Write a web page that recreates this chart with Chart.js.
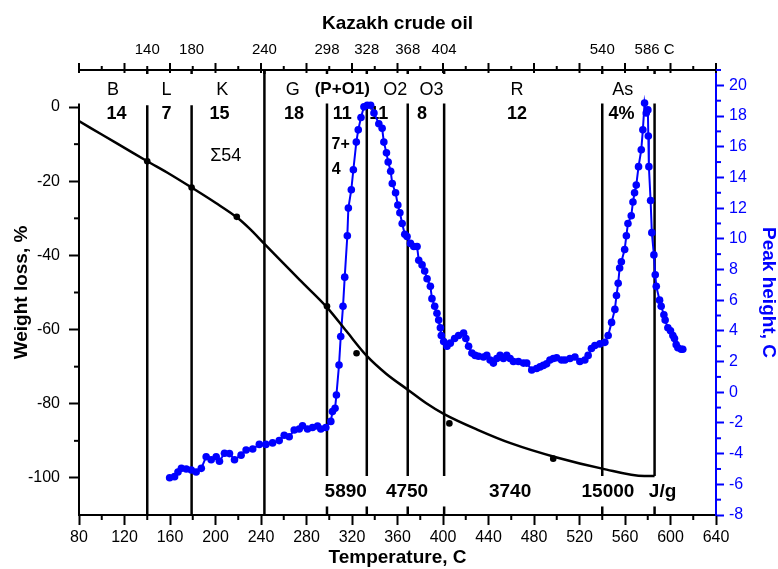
<!DOCTYPE html>
<html>
<head>
<meta charset="utf-8">
<script src="https://cdn.jsdelivr.net/npm/chart.js@4.4.1/dist/chart.umd.min.js"></script>
<style>
  body { margin: 0; background: #fff; }
</style>
</head>
<body>
<canvas id="c" width="778" height="569"></canvas>
<script>
// weight loss curve
const tgaTemp = [80, 100, 120, 140, 160, 179, 200, 219, 230, 243, 260, 274, 298, 315, 333, 350, 369, 385, 401, 431, 460, 500, 540, 577, 586];
const tgaLoss = [-3.8, -7.4, -11, -14.6, -18.1, -21.7, -25.8, -29.8, -32.8, -36.9, -42.2, -46.6, -54.0, -60.4, -67.1, -71.9, -76.2, -79.8, -82.8, -87.1, -90.7, -94.5, -97.5, -99.5, -99.5];
// measured points on weight loss curve
const tgaDotTemp = [140, 179, 218.7, 298, 324, 405.6, 496.9];
const tgaDotLoss = [-14.6, -21.7, -29.6, -53.7, -66.4, -85.3, -94.8];

// peak height curve
const peakTemp = [159.7, 164, 167, 170, 174.3, 178.7, 183, 187.5, 191.8, 196.2, 200.6, 203.5, 207.9, 212.3, 216.7, 222.5, 226.9, 232.7, 238.5, 244.3,
  250.2, 256, 260.4, 264.8, 269.2, 273.6, 276.5, 280.9, 285.3, 289.7, 292.6, 297, 301.4, 302.8, 305.1, 306.3, 308.6, 310.1, 312.1, 313.6,
  315.9, 316.8, 319.4, 321.2, 323.8, 325.5, 327.9, 330.5, 333.4, 336.4, 339.3, 343.6, 346.5, 348, 350.3, 351.8, 354, 355.4, 358.3, 360.3,
  362.1, 364.1, 366.4, 368.4, 371.4, 374.3, 377.2, 378.7, 381.6, 383.9, 386, 388.9, 390.3, 392.7, 394.7, 396.2, 397.7, 398.5, 400.6, 403.5,
  406.4, 410.2, 413.7, 418.1, 420.1, 422.5, 425.4, 428.3, 431.2, 435.6, 438.5, 441.4, 444.3, 447.3, 450.2, 453.1, 456, 459, 461.9, 466.3,
  470.7, 473.6, 478, 482.3, 485.3, 488.2, 491.1, 494, 497, 499.9, 504.3, 507.2, 511.6, 516, 520.3, 524.7, 527.6, 530.5, 533.5, 537.9,
  542.3, 545.2, 548.2, 551.1, 552.5, 554, 555.3, 556.8, 559.7, 561.2, 562.6, 565.5, 567, 568.4, 569.9, 571.9, 574.3, 575.7, 577.2, 578.7,
  580.1, 580.5, 581, 582.5, 583.6, 585.4, 586.6, 587.5, 590.4, 591.8, 594.2, 595.3, 597.7, 600, 602.1, 603.5, 605, 606.5, 609.4, 610.8];
const peakHeight = [-5.57, -5.5, -5.2, -4.96, -5.0, -5.07, -5.2, -4.96, -4.2, -4.4, -4.2, -4.5, -3.98, -4.0, -4.4, -4.1, -3.76, -3.7, -3.4, -3.4,
  -3.3, -3.15, -2.8, -2.9, -2.46, -2.4, -2.18, -2.4, -2.3, -2.2, -2.4, -2.3, -1.9, -1.26, -1.05, -0.18, 1.78, 3.63, 5.6, 7.5,
  10.2, 12.0, 13.2, 14.5, 16.3, 17.1, 17.9, 18.6, 18.7, 18.7, 18.2, 17.5, 17.2, 16.3, 15.6, 15.0, 14.4, 13.6, 13.0, 12.2,
  11.7, 11.0, 10.3, 10.15, 9.7, 9.5, 9.5, 8.6, 8.3, 7.9, 7.4, 6.9, 6.1, 5.6, 5.15, 4.7, 4.2, 3.7, 3.3, 3.0,
  3.2, 3.5, 3.7, 3.85, 3.5, 3.0, 2.55, 2.4, 2.35, 2.3, 2.4, 2.1, 1.9, 2.2, 2.4, 2.2, 2.4, 2.2, 2.0, 2.0,
  1.9, 1.9, 1.45, 1.55, 1.65, 1.75, 1.85, 2.1, 2.2, 2.25, 2.1, 2.1, 2.2, 2.3, 2.0, 2.1, 2.4, 2.85, 3.05, 3.15,
  3.25, 3.7, 4.55, 5.4, 6.3, 7.1, 8.1, 8.5, 9.3, 10.2, 11.0, 11.5, 12.4, 13.0, 13.5, 14.7, 15.8, 17.1, 18.85, 18.2,
  18.4, 16.7, 14.7, 12.5, 10.4, 8.95, 7.65, 6.9, 6.0, 5.6, 5.05, 4.7, 4.2, 4.0, 3.7, 3.5, 3.1, 2.9, 2.8, 2.8];

// fraction cut temperatures and their labels on the top axis
const cutTemps = [140, 179, 243, 298, 333, 369, 401, 540, 586];
const cutLabels = ['140', '180', '240', '298', '328', '368', '404', '540', '586 C'];
const fractionNames = ['B', 'L', 'K', 'G', '(P+O1)', 'O2', 'O3', 'R', 'As'];
const fractionShares = ['14', '7', '15', '18', '11', '11', '8', '12', '4%'];
const heatValues = ['5890', '4750', '3740', '15000', 'J/g'];
const leftTicks = [-100, -80, -60, -40, -20, 0];
const rightTicks = [-8, -6, -4, -2, 0, 2, 4, 6, 8, 10, 12, 14, 16, 18, 20];

const FONT = '"Liberation Sans", Arial, Helvetica, sans-serif';
const BLUE = '#0000ff';
Chart.defaults.font.family = FONT;
Chart.defaults.color = '#000';

// where the text notes sit (temperature, weight-loss units)
const nameX = [110, 157, 206, 268, 311.5, 358, 390, 465, 558];
const shareX = [113, 157, 203.5, 269, 311.5, 343.6, 381.6, 465, 557];
const heatX = [314.5, 368.4, 459, 545, 593];

const overlay = {
  id: 'overlay',
  beforeDatasetsDraw(chart) {
    const { ctx, chartArea: a, scales: { x, y } } = chart;
    ctx.save();
    ctx.strokeStyle = '#000';
    ctx.lineWidth = 2.5;
    const vline = (px, y1, y2) => {
      ctx.beginPath(); ctx.moveTo(px, y1); ctx.lineTo(px, y2); ctx.stroke();
    };
    cutTemps.forEach((t, i) => {
      const px = x.getPixelForValue(t);
      if (i < 3) {
        vline(px, i === 2 ? a.top : y.getPixelForValue(0.5), a.bottom);
      } else {
        vline(px, y.getPixelForValue(1), y.getPixelForValue(-99.5));
        vline(px, y.getPixelForValue(-107.7), a.bottom);
      }
    });

    ctx.fillStyle = '#000';
    ctx.textAlign = 'center';
    ctx.textBaseline = 'middle';
    fractionNames.forEach((s, i) => {
      ctx.font = (i === 4 ? 'bold 17px ' : '18px ') + FONT;
      ctx.fillText(s, x.getPixelForValue(nameX[i]), y.getPixelForValue(4.7));
    });
    ctx.font = 'bold 18px ' + FONT;
    fractionShares.forEach((s, i) => {
      ctx.fillText(s, x.getPixelForValue(shareX[i]), y.getPixelForValue(-2));
    });
    ctx.font = 'bold 19px ' + FONT;
    heatValues.forEach((s, i) => {
      ctx.fillText(s, x.getPixelForValue(heatX[i]), y.getPixelForValue(-103.6));
    });
    ctx.font = '18px ' + FONT;
    ctx.fillText('\u03A354', x.getPixelForValue(209), y.getPixelForValue(-13.2));
    ctx.font = 'bold 16px ' + FONT;
    ctx.fillText('7+', x.getPixelForValue(310), y.getPixelForValue(-10.1));
    ctx.fillText('4', x.getPixelForValue(306.2), y.getPixelForValue(-16.8));
    ctx.restore();
  },
  afterDraw(chart) {
    const { ctx, chartArea: a, scales: { x, y, y2 } } = chart;
    ctx.save();
    const seg = (x1, y1, x2, y2_) => {
      ctx.beginPath(); ctx.moveTo(x1, y1); ctx.lineTo(x2, y2_); ctx.stroke();
    };
    ctx.strokeStyle = '#000';
    ctx.lineWidth = 2;
    // left axis line starts just above 0
    seg(a.left, y.getPixelForValue(1), a.left, a.bottom + 1);
    // minor ticks
    for (let v = 100; v < 640; v += 40) {
      const px = x.getPixelForValue(v);
      seg(px, a.bottom, px, a.bottom + 5);
    }
    for (let v = -90; v < 0; v += 20) {
      const py = y.getPixelForValue(v);
      seg(a.left, py, a.left - 5, py);
    }
    // top axis ticks
    for (let v = 80; v <= 640; v += 20) {
      const px = x.getPixelForValue(v);
      if ((v - 80) % 40 === 0) seg(px, a.top - 7, px, a.top + 3);
      else seg(px, a.top - 4, px, a.top);
    }
    ctx.lineWidth = 2.5;
    cutTemps.forEach(t => {
      const px = x.getPixelForValue(t);
      seg(px, a.top, px, a.top + 4);
    });
    ctx.strokeStyle = BLUE;
    ctx.lineWidth = 2;
    for (let v = -7; v <= 21; v += 2) {
      const py = y2.getPixelForValue(v);
      seg(a.right, py, a.right + 5, py);
    }
    ctx.restore();
  }
};

new Chart(document.getElementById('c'), {
  type: 'line',
  data: {
    datasets: [
      {
        label: 'Weight loss',
        data: tgaTemp.map((t, i) => ({ x: t, y: tgaLoss[i] })),
        xAxisID: 'x', yAxisID: 'y',
        borderColor: '#000', borderWidth: 2.5,
        pointRadius: 0, cubicInterpolationMode: 'monotone'
      },
      {
        label: 'Weight loss points',
        data: tgaDotTemp.map((t, i) => ({ x: t, y: tgaDotLoss[i] })),
        xAxisID: 'x', yAxisID: 'y',
        showLine: false, pointRadius: 3.3,
        pointBackgroundColor: '#000', pointBorderWidth: 0
      },
      {
        label: 'Peak height',
        data: peakTemp.map((t, i) => ({ x: t, y: peakHeight[i] })),
        xAxisID: 'x', yAxisID: 'y2',
        borderColor: BLUE, borderWidth: 2,
        pointRadius: 3.8, pointBackgroundColor: BLUE, pointBorderWidth: 0
      }
    ]
  },
  options: {
    responsive: false,
    animation: false,
    layout: { padding: 0 },
    plugins: { legend: { display: false }, tooltip: { enabled: false } },
    scales: {
      x: {
        type: 'linear', position: 'bottom', min: 80, max: 640,
        ticks: { stepSize: 40, padding: 3, maxRotation: 0, font: { size: 16 }, color: '#000' },
        grid: { drawOnChartArea: false, tickLength: 10, tickColor: '#000', tickWidth: 2 },
        border: { color: '#000', width: 2 },
        title: { display: true, text: 'Temperature, C', font: { size: 19, weight: 'bold', lineHeight: 1 }, padding: { top: 0, bottom: 2 } },
        afterFit(s) { s.height = 54; }
      },
      x2: {
        type: 'linear', position: 'top', min: 80, max: 640,
        afterBuildTicks(s) { s.ticks = cutTemps.map(v => ({ value: v })); },
        ticks: { autoSkip: false, maxRotation: 0, padding: 3, font: { size: 15 }, color: '#000', callback: (v, i) => cutLabels[i] },
        grid: { drawOnChartArea: false, color: 'rgba(0,0,0,0)', tickLength: 8 },
        border: { color: '#000', width: 2 },
        title: { display: true, text: 'Kazakh crude oil', font: { size: 19, weight: 'bold', lineHeight: 1 }, padding: { top: 14, bottom: 0 } },
        afterFit(s) { s.height = 70; }
      },
      y: {
        position: 'left', min: -110, max: 10,
        afterBuildTicks(s) { s.ticks = leftTicks.map(v => ({ value: v })); },
        ticks: { padding: 9, font: { size: 16 }, color: '#000' },
        grid: { drawOnChartArea: false, tickLength: 10, tickColor: '#000', tickWidth: 2 },
        border: { display: false },
        title: { display: true, text: 'Weight loss, %', font: { size: 19, weight: 'bold', lineHeight: 1 }, padding: { top: 12, bottom: 0 } },
        afterFit(s) { s.width = 79; }
      },
      y2: {
        position: 'right', min: -8, max: 21,
        afterBuildTicks(s) { s.ticks = rightTicks.map(v => ({ value: v })); },
        ticks: { padding: 5, font: { size: 16 }, color: BLUE },
        grid: { drawOnChartArea: false, tickLength: 8, tickColor: BLUE, tickWidth: 2 },
        border: { color: BLUE, width: 2 },
        title: { display: true, text: 'Peak height, C', color: BLUE, font: { size: 19, weight: 'bold', lineHeight: 1 }, padding: { top: 0, bottom: 0 } },
        afterFit(s) { s.width = 62; }
      }
    }
  },
  plugins: [overlay]
});
</script>
</body>
</html>
